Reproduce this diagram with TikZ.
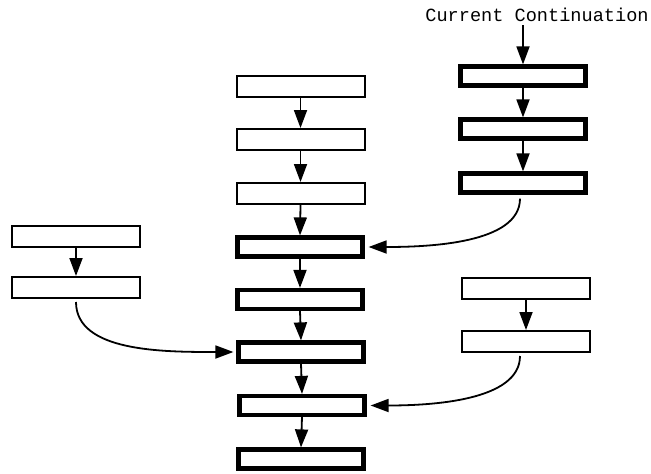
\documentclass[tikz,border=0pt]{standalone}
\usepackage{fontspec}
\setmonofont{Liberation Mono}
\usetikzlibrary{arrows.meta}
\begin{document}
\begin{tikzpicture}[x=1pt,y=-1pt,
  thinbox/.style={draw,line width=2pt,minimum width=128pt,minimum height=21pt,inner sep=0pt},
  thickbox/.style={draw,line width=4.2pt,minimum width=125pt,minimum height=19pt,inner sep=0pt},
  arr/.style={line width=1.8pt,-{Triangle[length=18pt,width=13pt]}}]
\useasboundingbox (0,0) rectangle (651,474);
% middle column
\node[thinbox] (m1) at (300.5,86.5) {};
\node[thinbox] (m2) at (300.5,139.5) {};
\node[thinbox] (m3) at (300.5,193.5) {};
\node[thickbox] (m4) at (300,247) {};
\node[thickbox] (m5) at (300,299.5) {};
\node[thickbox] (m6) at (301,352) {};
\node[thickbox] (m7) at (302,405.5) {};
\node[thickbox] (m8) at (301,459) {};
% left column
\node[thinbox] (l1) at (76,236) {};
\node[thinbox] (l2) at (76,287.5) {};
% right column top
\node[thickbox] (r1) at (523,76) {};
\node[thickbox] (r2) at (523,129) {};
\node[thickbox] (r3) at (523,183) {};
% right column lower
\node[thinbox] (r4) at (526,288.5) {};
\node[thinbox] (r5) at (526,341.5) {};
% label
\node[font=\ttfamily\fontsize{18.6}{20}\selectfont,inner sep=0pt] (cc) at (537,15) {Current Continuation};
\coordinate (ccb) at (523,25);
% arrows
\draw[arr] (ccb) -- (r1.north -| ccb);
\draw[arr] (r1.south) -- (r2.north);
\draw[arr] (r2.south) -- (r3.north);
\draw[arr] (m1.south) -- (m2.north);
\draw[arr] (m2.south) -- (m3.north);
\draw[arr] (m3.south) -- (m4.north);
\draw[arr] (m4.south) -- (m5.north);
\draw[arr] (m5.south) -- (m6.north);
\draw[arr] (m6.south) -- (m7.north);
\draw[arr] (m7.south) -- (m8.north);
\draw[arr] (l1.south) -- (l2.north);
\draw[arr] (r4.south) -- (r5.north);
% curves
\draw[arr] ([xshift=-3pt,yshift=-4pt]r3.south) .. controls +(0,45) and +(60,0) .. ([xshift=4pt]m4.east);
\draw[arr] ([yshift=-3pt]l2.south) .. controls +(0,50) and +(-70,0) .. ([xshift=-3pt]m6.west);
\draw[arr] ([xshift=-6pt,yshift=-3pt]r5.south) .. controls +(0,45) and +(60,0) .. ([xshift=4pt]m7.east);
\end{tikzpicture}
\end{document}
